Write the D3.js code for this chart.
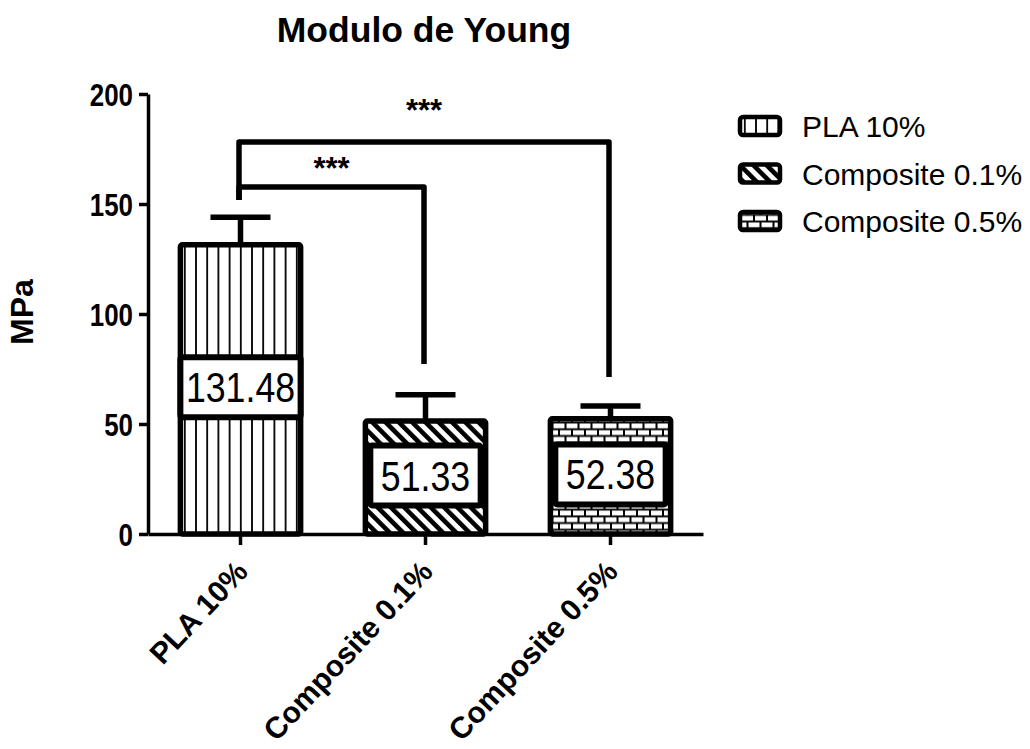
<!DOCTYPE html>
<html>
<head>
<meta charset="utf-8">
<script src="https://cdn.jsdelivr.net/npm/d3@7"></script>
<style>
  html, body { margin: 0; padding: 0; background: #fff; }
  svg { display: block; font-family: "Liberation Sans", Arial, sans-serif; }
</style>
</head>
<body>
<svg id="chart" width="1030" height="749"></svg>
<script>
// Young's modulus (MPa) per material, mean and standard deviation
const categories = ["PLA 10%", "Composite 0.1%", "Composite 0.5%"];
const means = [131.48, 51.33, 52.38];
const sds = [12.5, 12.0, 5.8];
const valueLabels = ["131.48", "51.33", "52.38"];
const yTicks = [0, 50, 100, 150, 200];

// Significance brackets: compared groups, bracket height, leg ends, star height
const bracketPairs = [[0, 1], [0, 2]];
const bracketLevels = [157.7, 178.2];
const bracketLeftEnds = [151.8, 151.8];
const bracketRightEnds = [77.3, 71.4];
const starLevels = [167.7, 194.1];
const starTexts = ["***", "***"];

const patternIds = ["pat-vlines", "pat-diag", "pat-brick"];

const svg = d3.select("#chart");
const margin = { left: 148, right: 703, top: 94, bottom: 534 };

const x = d3.scaleBand()
  .domain(categories)
  .range([margin.left, margin.right])
  .paddingInner(0.35)
  .paddingOuter(0.175);

const y = d3.scaleLinear()
  .domain([0, 200])
  .range([margin.bottom, margin.top]);

// ---- fill patterns ----
const defs = svg.append("defs");

const pv = defs.append("pattern")
  .attr("id", "pat-vlines")
  .attr("patternUnits", "userSpaceOnUse")
  .attr("width", 11.2).attr("height", 10);
pv.append("rect").attr("width", 11.2).attr("height", 10).attr("fill", "#fff");
pv.append("line").attr("x1", 5.6).attr("x2", 5.6).attr("y1", 0).attr("y2", 10)
  .attr("stroke", "#000").attr("stroke-width", 1.8);

const pd = defs.append("pattern")
  .attr("id", "pat-diag")
  .attr("patternUnits", "userSpaceOnUse")
  .attr("width", 9.4).attr("height", 10)
  .attr("patternTransform", "rotate(-45)");
pd.append("rect").attr("width", 9.4).attr("height", 10).attr("fill", "#fff");
pd.append("rect").attr("width", 4.6).attr("height", 10).attr("fill", "#000");

const pb = defs.append("pattern")
  .attr("id", "pat-brick")
  .attr("patternUnits", "userSpaceOnUse")
  .attr("width", 13).attr("height", 13.4);
pb.append("rect").attr("width", 13).attr("height", 13.4).attr("fill", "#000");
[[1, 1.4], [-5.5, 8.1], [7.5, 8.1]].forEach(([bx, by]) => {
  pb.append("rect").attr("x", bx).attr("y", by)
    .attr("width", 11).attr("height", 4.8).attr("fill", "#fff");
});

// ---- title ----
svg.append("text")
  .attr("x", 424).attr("y", 42)
  .attr("text-anchor", "middle")
  .attr("font-size", 35.5).attr("font-weight", "bold")
  .text("Modulo de Young");

// ---- y axis label ----
svg.append("text")
  .attr("transform", "translate(33,312) rotate(-90)")
  .attr("text-anchor", "middle")
  .attr("font-size", 32).attr("font-weight", "bold")
  .text("MPa");

// ---- bars ----
const barG = svg.append("g");
barG.selectAll("rect.bar")
  .data(categories)
  .join("rect")
  .attr("class", "bar")
  .attr("x", d => x(d))
  .attr("width", x.bandwidth())
  .attr("y", (d, i) => y(means[i]))
  .attr("height", (d, i) => y(0) - y(means[i]))
  .attr("rx", 2)
  .attr("fill", (d, i) => `url(#${patternIds[i]})`)
  .attr("stroke", "#000")
  .attr("stroke-width", 5.5)
  .attr("stroke-linejoin", "round");

// ---- error bars (upper) ----
const errG = svg.append("g")
  .attr("stroke", "#000").attr("stroke-width", 5.5);
categories.forEach((c, i) => {
  const cx = x(c) + x.bandwidth() / 2;
  errG.append("line")
    .attr("x1", cx).attr("x2", cx)
    .attr("y1", y(means[i])).attr("y2", y(means[i] + sds[i]));
  errG.append("line")
    .attr("x1", cx - 30).attr("x2", cx + 30)
    .attr("y1", y(means[i] + sds[i])).attr("y2", y(means[i] + sds[i]));
});

// ---- axes ----
const yAxis = svg.append("g")
  .attr("transform", `translate(${margin.left},0)`)
  .call(d3.axisLeft(y).tickValues(yTicks).tickSize(9).tickSizeOuter(0).tickPadding(0));
yAxis.select(".domain").attr("stroke-width", 3.5);
yAxis.selectAll(".tick line").attr("stroke-width", 3.5);
yAxis.selectAll(".tick text")
  .attr("x", 0)
  .attr("dy", "0.36em")
  .attr("transform", "translate(-15,0) scale(0.81,1)")
  .attr("font-size", 32).attr("font-weight", "bold")
  .attr("font-family", "'Liberation Sans', Arial, sans-serif")
  .attr("fill", "#000");

const xAxis = svg.append("g")
  .attr("transform", `translate(0,${margin.bottom})`)
  .call(d3.axisBottom(x).tickSize(11).tickSizeOuter(0));
xAxis.select(".domain").attr("stroke-width", 3.5);
xAxis.selectAll(".tick line").attr("stroke-width", 3.5);
xAxis.selectAll(".tick text")
  .attr("x", 0).attr("y", 0).attr("dy", 0)
  .attr("text-anchor", "end")
  .attr("transform", "translate(9,39) rotate(-47)")
  .attr("font-size", 30).attr("font-weight", "bold")
  .attr("font-family", "'Liberation Sans', Arial, sans-serif")
  .attr("fill", "#000");

// ---- value label boxes ----
const labG = svg.append("g");
categories.forEach((c, i) => {
  const cx = x(c) + x.bandwidth() / 2;
  const cy = y(means[i] / 2) - 2;
  const g = labG.append("g");
  const rect = g.append("rect");
  const t = g.append("text")
    .attr("text-anchor", "middle")
    .attr("font-size", 42)
    .attr("transform", `translate(${cx},${cy + 15}) scale(0.85,1)`)
    .text(valueLabels[i]);
  const tw = t.node().getComputedTextLength() * 0.85;
  const w = Math.min(tw + 21, x.bandwidth());
  rect.attr("x", cx - w / 2).attr("width", w)
    .attr("y", cy - 30).attr("height", 60)
    .attr("rx", 2)
    .attr("fill", "#fff").attr("stroke", "#000").attr("stroke-width", 6);
});

// ---- significance brackets ----
const brG = svg.append("g")
  .attr("fill", "none").attr("stroke", "#000").attr("stroke-width", 5.5)
  .attr("stroke-linejoin", "round");
bracketPairs.forEach(([a, b], k) => {
  const xa = x(categories[a]) + x.bandwidth() / 2 - 1.5;
  const xb = x(categories[b]) + x.bandwidth() / 2 - 1.5;
  brG.append("path")
    .attr("d", `M${xa},${y(bracketLeftEnds[k])}V${y(bracketLevels[k])}H${xb}V${y(bracketRightEnds[k])}`);
  svg.append("text")
    .attr("x", (xa + xb) / 2)
    .attr("y", y(starLevels[k]) + 14)
    .attr("text-anchor", "middle")
    .attr("font-size", 31).attr("font-weight", "bold")
    .text(starTexts[k]);
});

// ---- legend ----
const legendRows = [126, 173.5, 221];
const legG = svg.append("g");
categories.forEach((c, i) => {
  const ry = legendRows[i];
  legG.append("rect")
    .attr("x", 740).attr("y", ry - 9)
    .attr("width", 40).attr("height", 18)
    .attr("rx", 3)
    .attr("fill", `url(#${patternIds[i]})`)
    .attr("stroke", "#000").attr("stroke-width", 4.5);
  legG.append("text")
    .attr("x", 802).attr("y", ry + 11)
    .attr("font-size", 30)
    .text(c);
});
</script>
</body>
</html>
